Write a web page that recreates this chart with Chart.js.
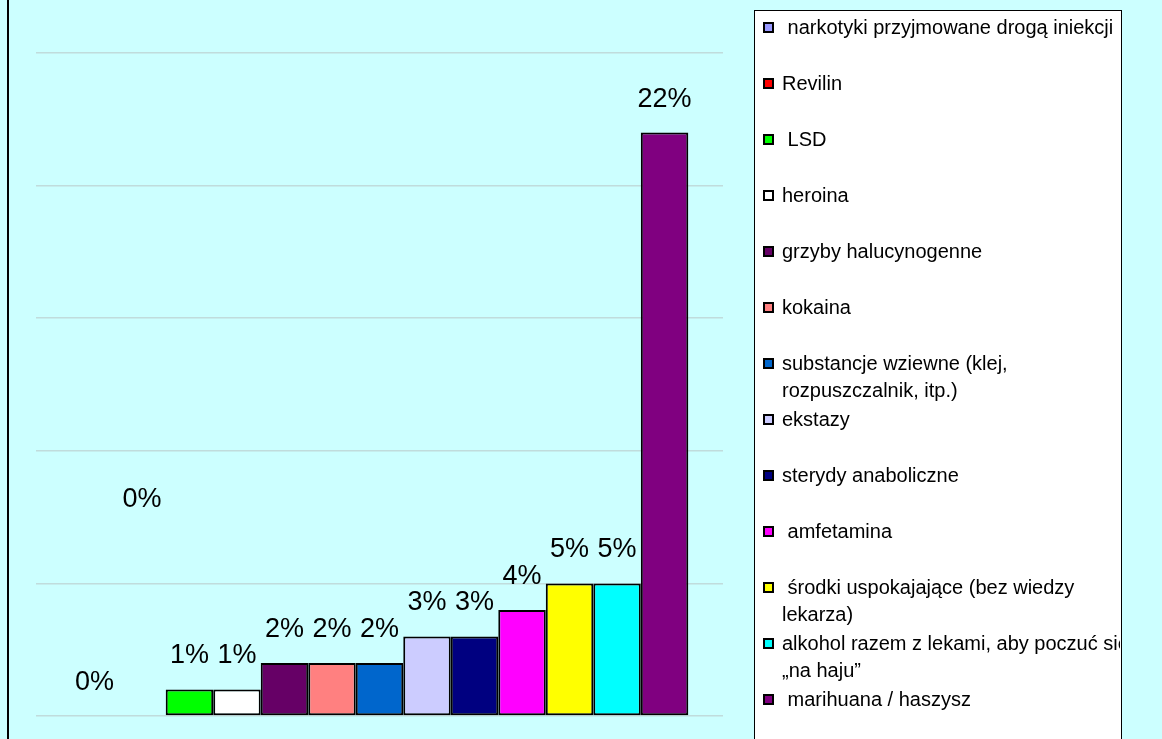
<!DOCTYPE html>
<html>
<head>
<meta charset="utf-8">
<script src="https://cdn.jsdelivr.net/npm/chart.js@4/dist/chart.umd.min.js"></script>
<style>
  html, body { margin: 0; padding: 0; background: #CCFFFF; }
  canvas { display: block; }
</style>
</head>
<body>
<canvas id="c" width="1162" height="739"></canvas>
<script>
// ---- data ----
const categories = [''];
const seriesLabels = [
  ' narkotyki przyjmowane drogą iniekcji',
  'Revilin',
  ' LSD',
  'heroina',
  'grzyby halucynogenne',
  'kokaina',
  'substancje wziewne (klej,\nrozpuszczalnik, itp.)',
  'ekstazy',
  'sterydy anaboliczne',
  ' amfetamina',
  ' środki uspokajające (bez wiedzy\nlekarza)',
  'alkohol razem z lekami, aby poczuć się\n„na haju”',
  ' marihuana / haszysz'
];
const seriesValues = [0, 0, 1, 1, 2, 2, 2, 3, 3, 4, 5, 5, 22];
const seriesColors = [
  '#9999FF', '#FF0000', '#00FF00', '#FFFFFF', '#660066', '#FF8080', '#0066CC',
  '#CCCCFF', '#000080', '#FF00FF', '#FFFF00', '#00FFFF', '#800080'
];
const yTicks = [0, 5, 10, 15, 20, 25];

// ---- plugins ----
const backgroundPlugin = {
  id: 'bgFrame',
  beforeDraw(chart) {
    const ctx = chart.ctx;
    ctx.save();
    ctx.fillStyle = '#CCFFFF';
    ctx.fillRect(0, 0, chart.width, chart.height);
    ctx.strokeStyle = '#000000';
    ctx.lineWidth = 2;
    ctx.beginPath();
    ctx.moveTo(8, 0);
    ctx.lineTo(8, chart.height);
    ctx.stroke();
    ctx.restore();
  }
};

const valueLabels = {
  id: 'valueLabels',
  afterDatasetsDraw(chart, args, opts) {
    const ctx = chart.ctx;
    const y = chart.scales.y;
    ctx.save();
    ctx.font = '27px "Liberation Sans", Arial, sans-serif';
    ctx.fillStyle = '#000';
    ctx.textAlign = 'center';
    ctx.textBaseline = 'alphabetic';
    chart.data.datasets.forEach((ds, i) => {
      const bar = chart.getDatasetMeta(i).data[0];
      const v = ds.data[0];
      const lift = (opts.lift && opts.lift[i]) || 0;
      const top = y.getPixelForValue(v + lift);
      ctx.fillText(v + '%', bar.x, top - opts.gap);
    });
    ctx.restore();
  }
};

const boxLegend = {
  id: 'boxLegend',
  afterDraw(chart, args, opts) {
    const ctx = chart.ctx;
    const L = opts.left, R = opts.right, T = opts.top;
    ctx.save();
    ctx.fillStyle = '#FFFFFF';
    ctx.fillRect(L, T, R - L, chart.height - T + 10);
    ctx.strokeStyle = '#000000';
    ctx.lineWidth = 1;
    ctx.strokeRect(L + 0.5, T + 0.5, R - L, chart.height - T + 10);
    ctx.beginPath();
    ctx.rect(L, T, R - L - 1, chart.height - T + 10);
    ctx.clip();
    ctx.font = '20px "Liberation Sans", Arial, sans-serif';
    ctx.textBaseline = 'middle';
    ctx.textAlign = 'left';
    chart.data.datasets.forEach((ds, i) => {
      const cy = opts.firstY + opts.step * i;
      ctx.fillStyle = ds.backgroundColor;
      ctx.fillRect(L + 10, cy - 4, 9, 9);
      ctx.strokeStyle = '#000';
      ctx.lineWidth = 2;
      ctx.strokeRect(L + 10, cy - 4, 9, 9);
      ctx.fillStyle = '#000';
      const lines = ds.label.split('\n');
      lines.forEach((ln, k) => {
        ctx.fillText(ln, L + 28, cy + 1 + k * opts.lineH);
      });
    });
    ctx.restore();
  }
};

// ---- chart ----
const datasets = seriesLabels.map((lab, i) => ({
  label: lab,
  data: [seriesValues[i]],
  backgroundColor: seriesColors[i],
  borderColor: '#000000',
  borderWidth: 2,
  borderSkipped: false,
  categoryPercentage: 0.899,
  barPercentage: 1.0
}));

new Chart(document.getElementById('c'), {
  type: 'bar',
  data: { labels: categories, datasets },
  plugins: [backgroundPlugin, valueLabels, boxLegend],
  options: {
    responsive: false,
    devicePixelRatio: 1,
    animation: false,
    layout: { padding: { left: 36, right: 439, top: 53, bottom: 23 } },
    scales: {
      x: { display: false },
      y: {
        min: 0, max: 25,
        afterBuildTicks(axis) { axis.ticks = yTicks.map(v => ({ value: v })); },
        ticks: { display: false },
        border: { display: false },
        grid: { color: '#C0DCDC', lineWidth: 1.5, drawTicks: false }
      }
    },
    plugins: {
      legend: { display: false },
      tooltip: { enabled: false },
      valueLabels: { gap: 26, lift: { 1: 6.9 } },
      boxLegend: { left: 754, right: 1121, top: 10, firstY: 27, step: 56, lineH: 27 }
    }
  }
});
</script>
</body>
</html>
